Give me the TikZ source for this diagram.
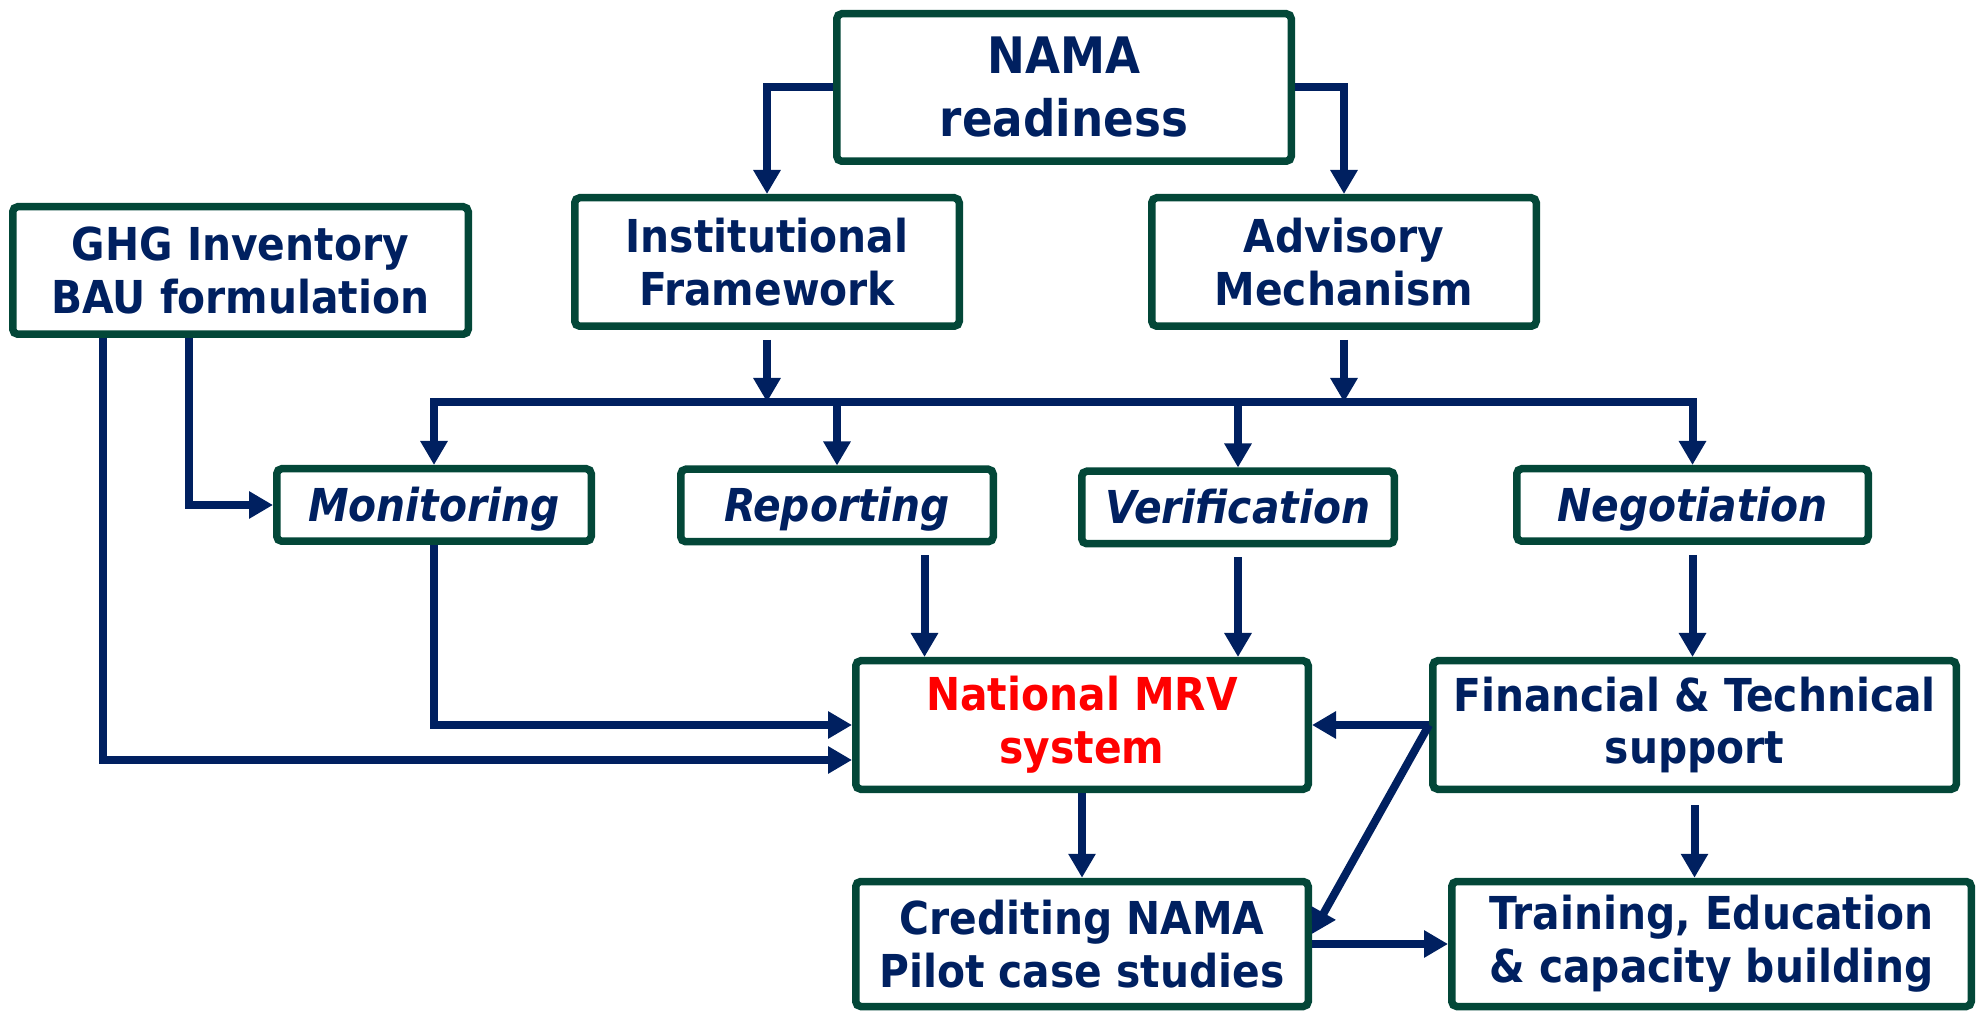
\documentclass[tikz,border=0pt]{standalone}
\usepackage{fontspec}
\setmainfont{DejaVu Sans Condensed}
\usepackage{tikz}
\usetikzlibrary{positioning}
\usetikzlibrary{arrows.meta}
\definecolor{navy}{HTML}{002060}
\definecolor{boxgreen}{HTML}{034738}

\begin{document}
\begin{tikzpicture}
	\tikzset{>={Triangle[length=2.4mm,width=2.6mm]}}
	\tikzset{box/.style={draw=boxgreen,line width=0.75mm,rounded corners=0.5mm,align=center,text=navy,inner sep=0pt,font=\bfseries\fontsize{12.9}{15}\selectfont}}
	\tikzset{ibox/.style={box,text height=2.4ex,text depth=0.7ex,font=\bfseries\itshape\fontsize{12.9}{15}\selectfont}}
	\tikzset{link/.style={draw=navy,line width=0.8mm,->}}
	\useasboundingbox (0,0) rectangle (19.83,10.10);

	% Top level boxes
	\node (nama) at (10.64,9.225) [box,minimum width=4.545cm,minimum height=1.475cm,font=\bfseries\fontsize{14.3}{17.9}\selectfont] {NAMA\\readiness};
	\node (ghg) at (2.405,7.395) [box,minimum width=4.555cm,minimum height=1.275cm] {GHG Inventory\\BAU formulation};
	\node (inst) at (7.67,7.48) [box,minimum width=3.845cm,minimum height=1.285cm] {Institutional\\Framework};
	\node (adv) at (13.44,7.48) [box,minimum width=3.845cm,minimum height=1.285cm] {Advisory\\Mechanism};

	% M, R, V and negotiation
	\node (mon) at (4.34,5.05) [ibox,minimum width=3.145cm,minimum height=0.725cm] {Monitoring};
	\node (rep) at (8.37,5.045) [ibox,minimum width=3.125cm,minimum height=0.725cm] {Reporting};
	\node (ver) at (12.38,5.025) [ibox,minimum width=3.125cm,minimum height=0.725cm] {Verification};
	\node (neg) at (16.925,5.05) [ibox,minimum width=3.515cm,minimum height=0.725cm] {Negotiation};

	% Lower boxes
	\node (mrv) at (10.82,2.85) [box,minimum width=4.525cm,minimum height=1.285cm,text=red] {National MRV\\system};
	\node (fin) at (16.945,2.85) [box,minimum width=5.235cm,minimum height=1.285cm] {Financial \& Technical\\support};
	\node (cred) at (10.82,0.66) [box,minimum width=4.525cm,minimum height=1.25cm] {Crediting NAMA\\Pilot case studies};
	\node (train) at (17.115,0.66) [box,minimum width=5.195cm,minimum height=1.25cm] {Training, Education\\\& capacity building};

	% NAMA readiness to the two pillars
	\draw[link] (nama.west) -| (inst.north);
	\draw[link] (nama.east) -| (adv.north);

	% Common bus line
	\def\yBus{6.08}
	\coordinate (busL) at (4.34,\yBus);
	\coordinate (busR) at (16.925,\yBus);
	\draw[link,-,line cap=rect] (busL) -- (busR);
	\draw[link,shorten <=1mm] (inst.south) -- (inst.south |- busL);
	\draw[link,shorten <=1mm] (adv.south) -- (adv.south |- busL);
	\foreach \n in {mon,rep,ver,neg}
		\draw[link] (\n.north |- busL) -- (\n.north);

	% GHG inventory lines
	\coordinate (ghgOutA) at ([xshift=-13.75mm]ghg.south);
	\coordinate (ghgOutB) at ([xshift=-5.15mm]ghg.south);
	\coordinate (mrvInB) at ([yshift=-3.5mm]mrv.west);
	\draw[link] (ghgOutB) |- (mon.west);
	\draw[link] (ghgOutA) |- (mrvInB);

	% Into the national MRV system
	\draw[link] (mon.south) |- (mrv.west);
	\coordinate (repOut) at ([xshift=8.75mm]rep.south);
	\draw[link,shorten <=1mm] (repOut) -- (repOut |- mrv.north);
	\draw[link,shorten <=1mm] (ver.south) -- (ver.south |- mrv.north);
	\draw[link,shorten <=1mm] (neg.south) -- (neg.south |- fin.north);
	\draw[link] (fin.west) -- (mrv.east);

	% Bottom row
	\coordinate (credIn) at ([yshift=1mm]cred.east);
	\draw[link] (mrv.south) -- (cred.north);
	\draw[link] (fin.west) -- (credIn);
	\draw[link] (cred.east) -- (train.west);
	\draw[link,shorten <=1.2mm] (fin.south) -- (fin.south |- train.north);
\end{tikzpicture}
\end{document}
